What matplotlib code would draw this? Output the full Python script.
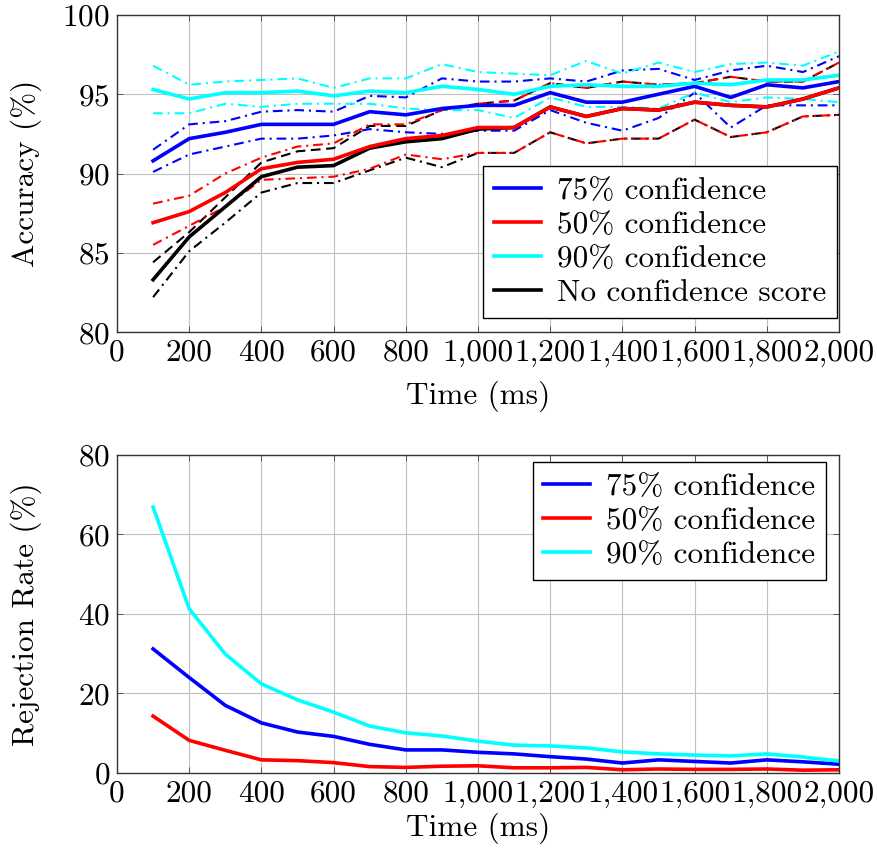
import numpy as np
import matplotlib
matplotlib.use('Agg')
import matplotlib.pyplot as plt
from matplotlib.ticker import FuncFormatter, MultipleLocator

# time axis (ms)
time_ms = [100, 200, 300, 400, 500, 600, 700, 800, 900, 1000,
           1100, 1200, 1300, 1400, 1500, 1600, 1700, 1800, 1900, 2000]

# accuracy (%) - mean and bounds
acc75 = [90.8, 92.2, 92.6, 93.1, 93.1, 93.1, 93.9, 93.7, 94.1, 94.3,
         94.3, 95.1, 94.5, 94.5, 95.0, 95.5, 94.8, 95.6, 95.4, 95.8]
acc75_hi = [91.5, 93.1, 93.3, 93.9, 94.0, 93.9, 94.9, 94.8, 96.0, 95.8,
            95.8, 96.0, 95.8, 96.5, 96.6, 95.9, 96.5, 96.8, 96.4, 97.4]
acc75_lo = [90.1, 91.2, 91.7, 92.2, 92.2, 92.4, 92.8, 92.6, 92.5, 92.7,
            92.7, 94.0, 93.2, 92.7, 93.5, 95.1, 92.9, 94.3, 94.3, 94.3]

acc50 = [86.9, 87.6, 88.8, 90.3, 90.7, 90.9, 91.7, 92.2, 92.4, 92.9,
         92.9, 94.2, 93.6, 94.1, 94.0, 94.5, 94.3, 94.2, 94.7, 95.4]
acc50_hi = [88.1, 88.6, 90.0, 91.0, 91.7, 91.9, 93.1, 93.1, 94.0, 94.4,
            94.6, 95.7, 95.4, 95.8, 95.6, 95.7, 96.1, 95.8, 95.8, 97.0]
acc50_lo = [85.5, 86.7, 87.9, 89.6, 89.7, 89.8, 90.3, 91.2, 90.9, 91.3,
            91.3, 92.6, 91.9, 92.2, 92.2, 93.4, 92.3, 92.6, 93.6, 93.7]

acc90 = [95.3, 94.7, 95.1, 95.1, 95.2, 94.9, 95.2, 95.1, 95.5, 95.3,
         95.0, 95.5, 95.6, 95.5, 95.5, 95.7, 95.6, 95.9, 95.9, 96.2]
acc90_hi = [96.8, 95.6, 95.8, 95.9, 96.0, 95.4, 96.0, 96.0, 96.9, 96.4,
            96.3, 96.2, 97.1, 96.3, 97.0, 96.4, 96.9, 97.0, 96.8, 97.7]
acc90_lo = [93.8, 93.8, 94.4, 94.2, 94.4, 94.4, 94.4, 94.1, 94.0, 94.0,
            93.5, 94.8, 94.2, 94.2, 94.1, 95.1, 94.5, 94.8, 94.7, 94.5]

accnc = [83.3, 86.0, 87.9, 89.8, 90.4, 90.5, 91.6, 92.0, 92.2, 92.8,
         92.9, 94.2, 93.6, 94.1, 94.0, 94.5, 94.3, 94.2, 94.7, 95.4]
accnc_hi = [84.4, 86.3, 88.5, 90.7, 91.4, 91.6, 93.0, 93.0, 94.0, 94.4,
            94.6, 95.7, 95.4, 95.8, 95.6, 95.7, 96.1, 95.8, 95.8, 97.0]
accnc_lo = [82.2, 85.1, 86.9, 88.8, 89.4, 89.4, 90.2, 91.0, 90.4, 91.3,
            91.3, 92.6, 91.9, 92.2, 92.2, 93.4, 92.3, 92.6, 93.6, 93.7]

# rejection rate (%)
rej75 = [31.2, 24.0, 17.0, 12.6, 10.3, 9.2, 7.2, 5.8, 5.8, 5.2,
         4.8, 4.1, 3.5, 2.5, 3.3, 2.9, 2.5, 3.3, 2.8, 2.2]
rej50 = [14.3, 8.2, 5.7, 3.3, 3.1, 2.6, 1.6, 1.4, 1.7, 1.8,
         1.3, 1.3, 1.4, 0.8, 1.0, 0.9, 0.9, 1.0, 0.7, 0.8]
rej90 = [66.9, 41.3, 29.9, 22.4, 18.4, 15.3, 11.8, 10.1, 9.3, 8.0,
         7.0, 6.8, 6.3, 5.3, 4.8, 4.5, 4.3, 4.8, 4.0, 3.0]

labels = ['75% confidence', '50% confidence', '90% confidence', 'No confidence score']

plt.rcParams['font.family'] = 'serif'
plt.rcParams['font.serif'] = ['cmr10']
plt.rcParams['mathtext.fontset'] = 'cm'
plt.rcParams['axes.formatter.use_mathtext'] = True
plt.rcParams['lines.scale_dashes'] = False

FS = 22.5
LW = 2.6    # main lines
BLW = 1.5   # bound lines
DASHDOT = (7, 3.5, 1.5, 3.5)
DASHED = (7, 4)

fig = plt.figure(figsize=(8.77, 8.56), dpi=100)
ax1 = fig.add_axes([0.1334, 0.6121, 0.8233, 0.3704])
ax2 = fig.add_axes([0.1334, 0.0970, 0.8233, 0.3715])

def style_axes(ax, xpad):
    ax.set_xlim(0, 2000)
    ax.xaxis.set_major_locator(MultipleLocator(200))
    ax.xaxis.set_major_formatter(FuncFormatter(lambda v, p: f'{v:,.0f}'))
    ax.grid(True, color='#c0c0c0', lw=0.8)
    ax.set_axisbelow(True)
    ax.tick_params(direction='in', length=4, width=0.6, top=True, right=True,
                   labelsize=FS, pad=5, color='#444444')
    for s in ax.spines.values():
        s.set_color('#333333')
        s.set_linewidth(1.0)
    ax.set_xlabel('Time (ms)', fontsize=FS, labelpad=xpad)

# top: accuracy
ax1.plot(time_ms, acc75_hi, color='blue', lw=BLW, dashes=DASHDOT)
ax1.plot(time_ms, acc75_lo, color='blue', lw=BLW, dashes=DASHDOT)
ax1.plot(time_ms, acc90_hi, color='cyan', lw=BLW, dashes=DASHDOT)
ax1.plot(time_ms, acc90_lo, color='cyan', lw=BLW, dashes=DASHDOT)
ax1.plot(time_ms, accnc_hi, color='black', lw=BLW, dashes=DASHED)
ax1.plot(time_ms, accnc_lo, color='black', lw=BLW, dashes=DASHDOT)
ax1.plot(time_ms, acc50_hi, color='red', lw=BLW, dashes=DASHDOT)
ax1.plot(time_ms, acc50_lo, color='red', lw=BLW, dashes=DASHDOT)

h1, = ax1.plot(time_ms, acc75, color='blue', lw=LW)
h3, = ax1.plot(time_ms, acc90, color='cyan', lw=LW)
h4, = ax1.plot(time_ms, accnc, color='black', lw=LW)
h2, = ax1.plot(time_ms, acc50, color='red', lw=LW)

style_axes(ax1, 10)
ax1.set_ylim(80, 100)
ax1.yaxis.set_major_locator(MultipleLocator(5))
ax1.set_ylabel('Accuracy (%)', fontsize=FS)
ax1.yaxis.set_label_coords(-0.104, 0.5)

leg = ax1.legend([h1, h2, h3, h4], labels, loc='lower right',
                 bbox_to_anchor=(0.997, 0.044), fontsize=FS, fancybox=False,
                 edgecolor='black', framealpha=1, handlelength=1.5,
                 handletextpad=0.5, labelspacing=0.2, borderpad=0.35,
                 borderaxespad=0)
leg.get_frame().set_linewidth(1.0)

# bottom: rejection rate
r1, = ax2.plot(time_ms, rej75, color='blue', lw=LW)
r2, = ax2.plot(time_ms, rej50, color='red', lw=LW)
r3, = ax2.plot(time_ms, rej90, color='cyan', lw=LW)

style_axes(ax2, 3)
ax2.set_ylim(0, 80)
ax2.yaxis.set_major_locator(MultipleLocator(20))
ax2.set_ylabel('Rejection Rate (%)', fontsize=FS)
ax2.yaxis.set_label_coords(-0.104, 0.5)

leg2 = ax2.legend([r1, r2, r3], labels[:3], loc='upper right',
                  bbox_to_anchor=(0.982, 0.978), fontsize=FS, fancybox=False,
                  edgecolor='black', framealpha=1, handlelength=1.5,
                  handletextpad=0.5, labelspacing=0.2, borderpad=0.35,
                  borderaxespad=0)
leg2.get_frame().set_linewidth(1.0)

fig.savefig('out.png', dpi=100)
